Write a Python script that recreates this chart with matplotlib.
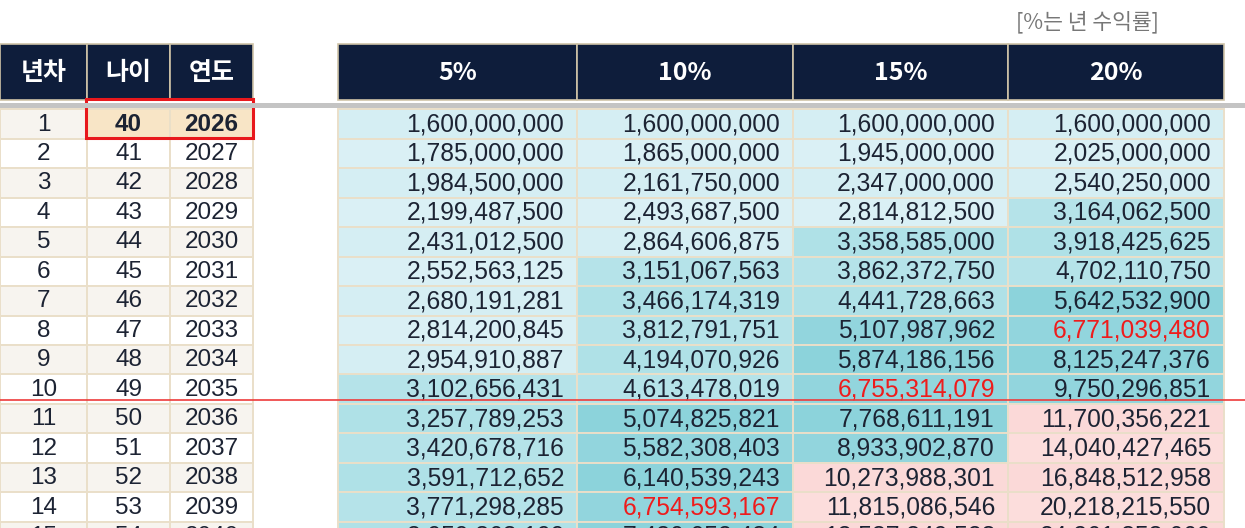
import matplotlib
matplotlib.use("Agg")
import matplotlib.pyplot as plt
from matplotlib.patches import Rectangle

# data
left_headers = ["년차", "나이", "연도"]
rate_headers = ["5%", "10%", "15%", "20%"]
year_no = [1, 2, 3, 4, 5, 6, 7, 8, 9, 10, 11, 12, 13, 14, 15]
ages = [40, 41, 42, 43, 44, 45, 46, 47, 48, 49, 50, 51, 52, 53, 54]
years = [2026, 2027, 2028, 2029, 2030, 2031, 2032, 2033, 2034, 2035,
         2036, 2037, 2038, 2039, 2040]
val_5 = [1600000000, 1785000000, 1984500000, 2199487500, 2431012500,
         2552563125, 2680191281, 2814200845, 2954910887, 3102656431,
         3257789253, 3420678716, 3591712652, 3771298285, 3959863199]
val_10 = [1600000000, 1865000000, 2161750000, 2493687500, 2864606875,
          3151067563, 3466174319, 3812791751, 4194070926, 4613478019,
          5074825821, 5582308403, 6140539243, 6754593167, 7430052484]
val_15 = [1600000000, 1945000000, 2347000000, 2814812500, 3358585000,
          3862372750, 4441728663, 5107987962, 5874186156, 6755314079,
          7768611191, 8933902870, 10273988301, 11815086546, 13587349528]
val_20 = [1600000000, 2025000000, 2540250000, 3164062500, 3918425625,
          4702110750, 5642532900, 6771039480, 8125247376, 9750296851,
          11700356221, 14040427465, 16848512958, 20218215550, 24261858660]
# cells written in red (row index, column index)
red_cells = [(13, 1), (9, 2), (7, 3)]
note = "[%는 년 수익률]"

columns = [val_5, val_10, val_15, val_20]

# colour bands by value
bands = [(3e9, ("#d5eef3", "#daf0f5")),
         (5e9, ("#afe1e7", "#b5e3e9")),
         (1e10, ("#8cd3db", "#92d5dd")),
         (1e13, ("#fbd9d8", "#fcdddc"))]

navy = "#0e1d3b"
grid = "#eadfc9"
txt = "#1c2333"
num_font = ["Liberation Sans", "DejaVu Sans"]
kr_font = ["Noto Sans CJK KR", "DejaVu Sans"]

W, H = 1245, 528
fig = plt.figure(figsize=(W / 100, H / 100), dpi=100)
ax = fig.add_axes([0, 0, 1, 1])
ax.set_xlim(0, W)
ax.set_ylim(H, 0)
ax.axis("off")

head_top, head_bot = 44, 100
row_top, row_h = 109.3, 29.46

left_x = [0, 87, 170, 253]
right_x = [338, 577, 793, 1008, 1224]

# header cells
for xs, labels in [(left_x, left_headers), (right_x, rate_headers)]:
    for i, lab in enumerate(labels):
        x0, x1 = xs[i], xs[i + 1]
        ax.add_patch(Rectangle((x0, head_top), x1 - x0, head_bot - head_top,
                               facecolor=navy, edgecolor="#cfc3a8", lw=1.2))
        ax.text((x0 + x1) / 2, (head_top + head_bot) / 2 + 1, lab, color="white",
                fontsize=18, fontweight="bold", family=kr_font,
                ha="center", va="center")

# left table body
left_vals = [year_no, ages, years]
for r in range(len(year_no)):
    y0 = row_top + r * row_h
    for c in range(3):
        x0, x1 = left_x[c], left_x[c + 1]
        fc = "#f7f4ef" if r % 2 == 0 else "white"
        bold = False
        if r == 0 and c > 0:
            fc = "#f8e5c6"
            bold = True
        ax.add_patch(Rectangle((x0, y0), x1 - x0, row_h, facecolor=fc,
                               edgecolor=grid, lw=1.4))
        ax.text((x0 + x1) / 2, y0 + row_h / 2 + 0.5, str(left_vals[c][r]),
                color=txt, fontsize=17.5, family=num_font,
                fontweight="bold" if bold else "normal",
                ha="center", va="center")

# right table body
for c, vals in enumerate(columns):
    x0, x1 = right_x[c], right_x[c + 1]
    for r, v in enumerate(vals):
        y0 = row_top + r * row_h
        for lim, cols in bands:
            if v < lim:
                fc = cols[r % 2]
                break
        ax.add_patch(Rectangle((x0, y0), x1 - x0, row_h, facecolor=fc,
                               edgecolor=grid, lw=1.4))
        color = "#ee1c1c" if (r, c) in red_cells else txt
        ax.text(x1 - 13, y0 + row_h / 2 + 0.5, f"{v:,}", color=color,
                fontsize=17.7, family=num_font, ha="right", va="center")

# red highlight around first age / year
ax.add_patch(Rectangle((86, 99), 167, 38.5, facecolor="none",
                       edgecolor="#e8181c", lw=2.2, zorder=5))
# gray separator band under the headers
ax.add_patch(Rectangle((0, 102.5), W, 5.5, facecolor="#c4c4c4",
                       edgecolor="none", zorder=6))
# red line between year 10 and 11
ax.plot([0, W], [row_top + 10 * row_h - 3.5] * 2, color="#ee3b3b", lw=1.2,
        zorder=6)

ax.text(1087, 22, note, color="#777777", fontsize=15.5, family=kr_font,
        ha="center", va="center")

fig.savefig("out.png", dpi=100)
